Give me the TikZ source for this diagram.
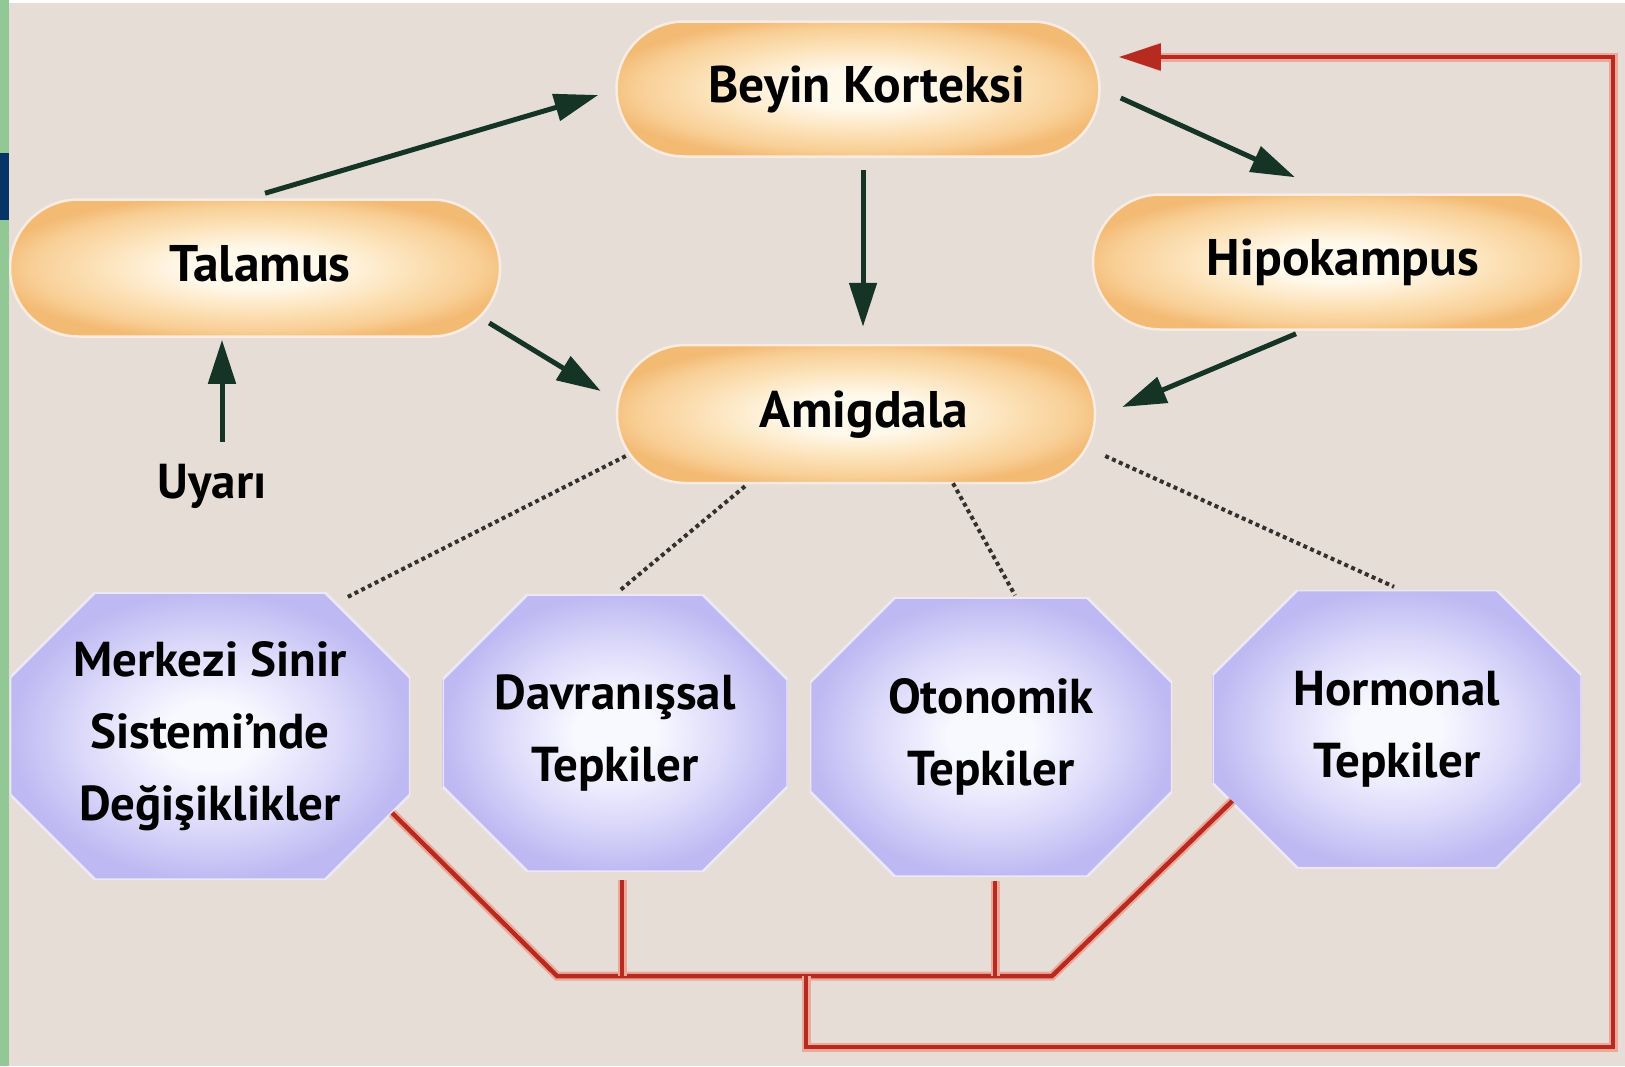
\documentclass[tikz,border=0pt]{standalone}
\usepackage{fontspec}
\newfontfamily\lbl{PT Sans}
\usetikzlibrary{arrows.meta,shapes.misc}
\definecolor{bgc}{RGB}{230,222,214}
\definecolor{pillc}{RGB}{255,249,236}
\definecolor{pillm}{RGB}{252,226,184}
\definecolor{pillo}{RGB}{248,206,148}
\definecolor{pilld}{RGB}{243,186,116}
\definecolor{pillrim}{RGB}{250,236,226}
\definecolor{octc}{RGB}{248,248,255}
\definecolor{octm}{RGB}{220,217,250}
\definecolor{octo}{RGB}{190,185,242}
\definecolor{octrim}{RGB}{236,232,246}
\definecolor{arrc}{RGB}{22,52,38}
\definecolor{redc}{RGB}{182,42,32}
\definecolor{halo}{RGB}{238,168,154}
\definecolor{dotc}{RGB}{55,48,42}
\definecolor{stripg}{RGB}{146,200,150}
\definecolor{stripb}{RGB}{6,52,104}
\pgfdeclareradialshading{pillshade}{\pgfpoint{0bp}{0bp}}{color(0bp)=(pillc); color(7bp)=(pillc); color(16bp)=(pillm); color(23bp)=(pillo); color(27bp)=(pilld); color(50bp)=(pilld)}
\pgfdeclareradialshading{octshade}{\pgfpoint{0bp}{0bp}}{color(0bp)=(octc); color(6bp)=(octc); color(16bp)=(octm); color(25bp)=(octo); color(50bp)=(octo)}
\newcommand\lblf{\lbl\bfseries\fontsize{49}{72}\selectfont}
\newcommand\lblp{\lbl\bfseries\fontsize{51.5}{72}\selectfont}
\tikzset{
  pill/.style={rounded rectangle, shade, shading=pillshade, draw=pillrim, line width=2.5pt,
    inner sep=0pt, font=\lblp, text=black, text height=37pt, text depth=11pt},
  oct/.style={rectangle, inner sep=0pt, align=center, font=\lblf, text=black,
    path picture={
      \shade[shading=octshade, draw=octrim, line width=2.5pt]
        ([xshift=85pt]path picture bounding box.north west) --
        ([xshift=-85pt]path picture bounding box.north east) --
        ([yshift=-85pt]path picture bounding box.north east) --
        ([yshift=85pt]path picture bounding box.south east) --
        ([xshift=-85pt]path picture bounding box.south east) --
        ([xshift=85pt]path picture bounding box.south west) --
        ([yshift=85pt]path picture bounding box.south west) --
        ([yshift=-85pt]path picture bounding box.north west) -- cycle;}},
  garr/.style={draw=arrc, line width=5pt, -{Triangle[length=44pt,width=27pt]}},
  dotl/.style={draw=dotc, line width=4pt, dash pattern=on 4pt off 3.5pt},
  redl/.style={draw=redc, line width=4.5pt, preaction={draw=halo, line width=9pt}},
}
\begin{document}
\begin{tikzpicture}[x=1pt,y=-1pt]
\useasboundingbox (0,0) rectangle (1625,1066);
\fill[bgc] (0,0) rectangle (1625,1066);
\fill[white] (0,0) rectangle (1625,3);

% pills
\node[pill, minimum width=483pt, minimum height=135pt] (bk) at (858,89) {\hspace*{18pt}Beyin Korteksi};
\node[pill, minimum width=490pt, minimum height=137pt] (tal) at (255,268) {\hspace*{10pt}Talamus};
\node[pill, minimum width=488pt, minimum height=135pt] (hip) at (1337,262) {\hspace*{12pt}Hipokampus};
\node[pill, minimum width=478pt, minimum height=138pt] (ami) at (856,414) {\hspace*{16pt}Amigdala};
\node[font=\lblf, anchor=base, inner sep=0pt] (uy) at (212,498) {Uyarı};

% octagons
\node[oct, minimum width=400pt, minimum height=287pt] (mss) at (210,736) {Merkezi Sinir\\Sistemi’nde\\Değişiklikler};
\node[oct, minimum width=345pt, minimum height=277pt] (dav) at (615,733) {Davranışsal\\Tepkiler};
\node[oct, minimum width=362pt, minimum height=279pt] (oto) at (991,737) {Otonomik\\Tepkiler};
\node[oct, minimum width=369pt, minimum height=278pt] (hor) at (1397,729) {Hormonal\\Tepkiler};

% green arrows
\draw[garr] ([shift={(10,-5)}]tal.north) -- ([shift={(-17,6)}]bk.west);
\draw[garr] ([shift={(5,12)}]bk.south) -- ([shift={(7,-17)}]ami.north);
\draw[garr] ([shift={(20,9)}]bk.east) -- ([shift={(-42,-16)}]hip.north);
\draw[garr] ([shift={(-12,55)}]tal.east) -- ([shift={(-15,-23)}]ami.west);
\draw[garr] ([shift={(-41,3)}]hip.south) -- ([shift={(26,-7)}]ami.east);
\draw[garr] ([shift={(10,-22)}]uy.north) -- ([shift={(-33,2)}]tal.south);

% dotted links
\draw[dotl] ([shift={(10,42)}]ami.west) -- ([shift={(135,6)}]mss.north);
\draw[dotl] ([shift={(-111,2)}]ami.south) -- ([shift={(5,-4)}]dav.north);
\draw[dotl] ([shift={(97,-1)}]ami.south) -- ([shift={(24,-2)}]oto.north);
\draw[dotl] ([shift={(9,42)}]ami.east) -- ([shift={(-3,-3)}]hor.north);

% red feedback
\coordinate (j1) at (557,976);
\coordinate (j2) at (1052,976);
\coordinate (jd) at (622,976);
\coordinate (jo) at (995,976);
\coordinate (jm) at (806,976);
\coordinate (c1) at (806,1047);
\coordinate (c2) at (1613,1047);
\coordinate (c3) at (1613,57);
\draw[redl] ([shift={(-18,77)}]mss.east) -- (j1) -- (j2) -- ([shift={(20,72)}]hor.west);
\draw[redl] ([shift={(7,8)}]dav.south) -- (jd);
\draw[redl] ([shift={(4,4)}]oto.south) -- (jo);
\draw[redl, -{Triangle[length=42pt,width=26pt]}] (jm) -- (c1) -- (c2) -- (c3) -- ([shift={(18,-32)}]bk.east);

% left strip
\fill[stripg] (0,0) rectangle (9,1066);
\fill[stripb] (0,153) rectangle (9,220);
\end{tikzpicture}
\end{document}
